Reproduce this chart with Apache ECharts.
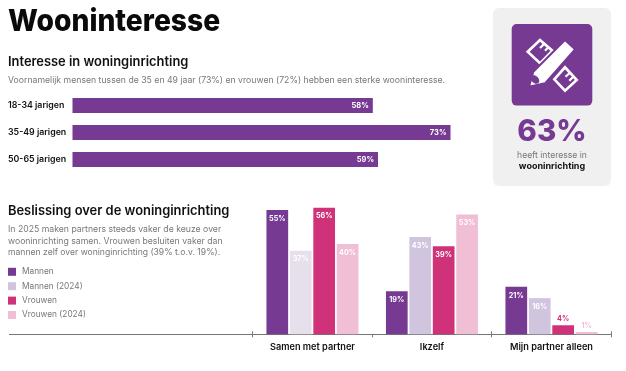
<!DOCTYPE html>
<html>
<head>
<meta charset="utf-8">
<title>Wooninteresse</title>
<script src="https://cdn.jsdelivr.net/npm/echarts@6/dist/echarts.min.js"></script>
<style>
  html, body { margin: 0; padding: 0; background: #fff; }
  #chart { width: 626px; height: 371px; }
</style>
</head>
<body>
<div id="chart"></div>
<script>
// bovenste grafiek
const ageCategories = ['18-34 jarigen', '35-49 jarigen', '50-65 jarigen'];
const ageValues = [58, 73, 59];

// onderste grafiek
const decisionCategories = ['Samen met partner', 'Ikzelf', 'Mijn partner alleen'];
const mannen = [55, 19, 21];
const mannen2024 = [37, 43, 16];
const vrouwen = [56, 39, 4];
const vrouwen2024 = [40, 53, 1];

const purple = '#763a93';
const FONT = 'Inter, "Noto Sans", sans-serif';

function text(x, y, str, size, weight, color, align) {
  return {
    type: 'text', x: x, y: y, silent: true,
    style: { text: str, fontFamily: FONT, fontSize: size, fontWeight: weight, fill: color, textAlign: align || 'left', textVerticalAlign: 'middle' }
  };
}

function poly(points, style) {
  return { type: 'polygon', silent: true, shape: { points: points }, style: style };
}

function line(x1, y1, x2, y2) {
  return { type: 'line', silent: true, shape: { x1: x1, y1: y1, x2: x2, y2: y2 }, style: { stroke: '#fff', lineWidth: 2.2 } };
}

function decisionSeries(name, values, color, labelColor) {
  return {
    name: name,
    type: 'bar',
    xAxisIndex: 1,
    yAxisIndex: 1,
    barWidth: 21.7,
    barGap: '8%',
    itemStyle: { color: color },
    data: values.map(function (v) {
      // kleine staafjes krijgen het label erboven
      if (v < 5) {
        return { value: v, label: { position: 'top', distance: 3, color: labelColor } };
      }
      return v;
    }),
    label: {
      show: true, position: 'insideTop', distance: 5,
      formatter: '{c}%', fontFamily: FONT, fontSize: 7.2, fontWeight: 700, color: '#fff'
    }
  };
}

const m2024 = decisionSeries('Mannen (2024)', mannen2024, '#d1c4df');
m2024.data[0] = { value: mannen2024[0], itemStyle: { color: '#e6dfec' } };

const titleText = text(8, 22, 'Wooninteresse', 30.5, 800, '#0a0a0a');
titleText.scaleX = 0.926;

const option = {
  animation: false,
  backgroundColor: '#fff',
  textStyle: { fontFamily: FONT },
  legend: {
    orient: 'vertical',
    left: 8,
    top: 267.8,
    itemWidth: 8,
    itemHeight: 8,
    itemGap: 6.4,
    icon: 'rect',
    padding: 0,
    textStyle: { color: '#777', fontSize: 8.3, fontFamily: FONT, padding: [0, 0, 0, 1] },
    data: ['Mannen', 'Mannen (2024)', 'Vrouwen', 'Vrouwen (2024)']
  },
  grid: [
    { left: 72.5, top: 92, width: 378, height: 81 },
    { left: 252.7, top: 198.7, width: 358.5, height: 135.6 }
  ],
  xAxis: [
    { gridIndex: 0, type: 'value', min: 0, max: 73, show: false },
    {
      gridIndex: 1, type: 'category', data: decisionCategories,
      axisLine: { lineStyle: { color: '#777', width: 1 } },
      axisTick: { show: true, length: 3, lineStyle: { color: '#777' } },
      axisLabel: { margin: 8, fontFamily: FONT, fontSize: 9.2, fontWeight: 600, color: '#111' }
    },
    {
      // alleen voor de streepjes boven de as
      gridIndex: 1, type: 'category', position: 'bottom', data: decisionCategories,
      axisLine: { show: false },
      axisTick: { show: true, inside: true, length: 3, lineStyle: { color: '#777' } },
      axisLabel: { show: false }
    }
  ],
  yAxis: [
    {
      gridIndex: 0, type: 'category', inverse: true, data: ageCategories,
      axisLine: { show: false }, axisTick: { show: false },
      axisLabel: { align: 'left', margin: 64.5, fontFamily: FONT, fontSize: 8.8, fontWeight: 600, color: '#111' }
    },
    { gridIndex: 1, type: 'value', min: 0, max: 60, show: false }
  ],
  series: [
    {
      name: 'Interesse',
      type: 'bar',
      xAxisIndex: 0,
      yAxisIndex: 0,
      barWidth: 15,
      itemStyle: { color: purple },
      data: ageValues,
      label: {
        show: true, position: 'insideRight', distance: 4,
        formatter: '{c}%', fontFamily: FONT, fontSize: 7.5, fontWeight: 700, color: '#fff'
      }
    },
    decisionSeries('Mannen', mannen, purple),
    m2024,
    decisionSeries('Vrouwen', vrouwen, '#cf3278', '#cf3278'),
    decisionSeries('Vrouwen (2024)', vrouwen2024, '#f0bed5', '#f0bed5')
  ],
  graphic: [
    titleText,
    text(8, 62, 'Interesse in woninginrichting', 12.9, 600, '#111'),
    text(8, 80, 'Voornamelijk mensen tussen de 35 en 49 jaar (73%) en vrouwen (72%) hebben een sterke wooninteresse.', 8.7, 400, '#777'),
    text(8, 211, 'Beslissing over de woninginrichting', 12.9, 600, '#111'),
    text(8, 229, 'In 2025 maken partners steeds vaker de keuze over', 8.7, 400, '#777'),
    text(8, 241, 'wooninrichting samen. Vrouwen besluiten vaker dan', 8.7, 400, '#777'),
    text(8, 252.5, 'mannen zelf over woninginrichting (39% t.o.v. 19%).', 8.6, 400, '#777'),
    { type: 'line', silent: true, shape: { x1: 9, y1: 334.5, x2: 253, y2: 334.5 }, style: { stroke: '#777', lineWidth: 1 } },

    // kaart rechts
    { type: 'rect', silent: true, shape: { x: 493, y: 8, width: 118, height: 178, r: 6 }, style: { fill: '#f0f0f0' } },
    { type: 'rect', silent: true, shape: { x: 511.7, y: 24, width: 80.6, height: 81.6, r: 5 }, style: { fill: purple } },
    poly([[527.7, 51.7], [540, 40], [552.3, 50.7], [540, 63.3]], { fill: 'none', stroke: '#fff', lineWidth: 2.6 }),
    poly([[554.3, 79.3], [565, 67.3], [576.7, 80], [565, 90.7]], { fill: 'none', stroke: '#fff', lineWidth: 2.6 }),
    line(544.3, 43.7, 540, 48),
    line(548.3, 47.3, 545, 50.7),
    line(570, 72.7, 565.5, 76.7),
    line(573.3, 76.7, 569.3, 80.7),
    poly([[529, 86.7], [533.3, 71.7], [565, 40], [575, 49.3], [545, 83.3]], { fill: '#fff', stroke: purple, lineWidth: 2, lineJoin: 'round' }),
    { type: 'ellipse', silent: true, shape: { cx: 535, cy: 79.5, rx: 5, ry: 3.5 }, rotation: -Math.PI / 4, originX: 535, originY: 79.5, style: { fill: purple } },
    text(552, 132, '63%', 29.5, 800, purple, 'center'),
    text(552, 155, 'heeft interesse in', 8.6, 400, '#777', 'center'),
    text(552, 166.5, 'wooninrichting', 9, 700, '#111', 'center')
  ]
};

const myChart = echarts.init(document.getElementById('chart'), null, { renderer: 'canvas' });
myChart.setOption(option);
</script>
</body>
</html>
